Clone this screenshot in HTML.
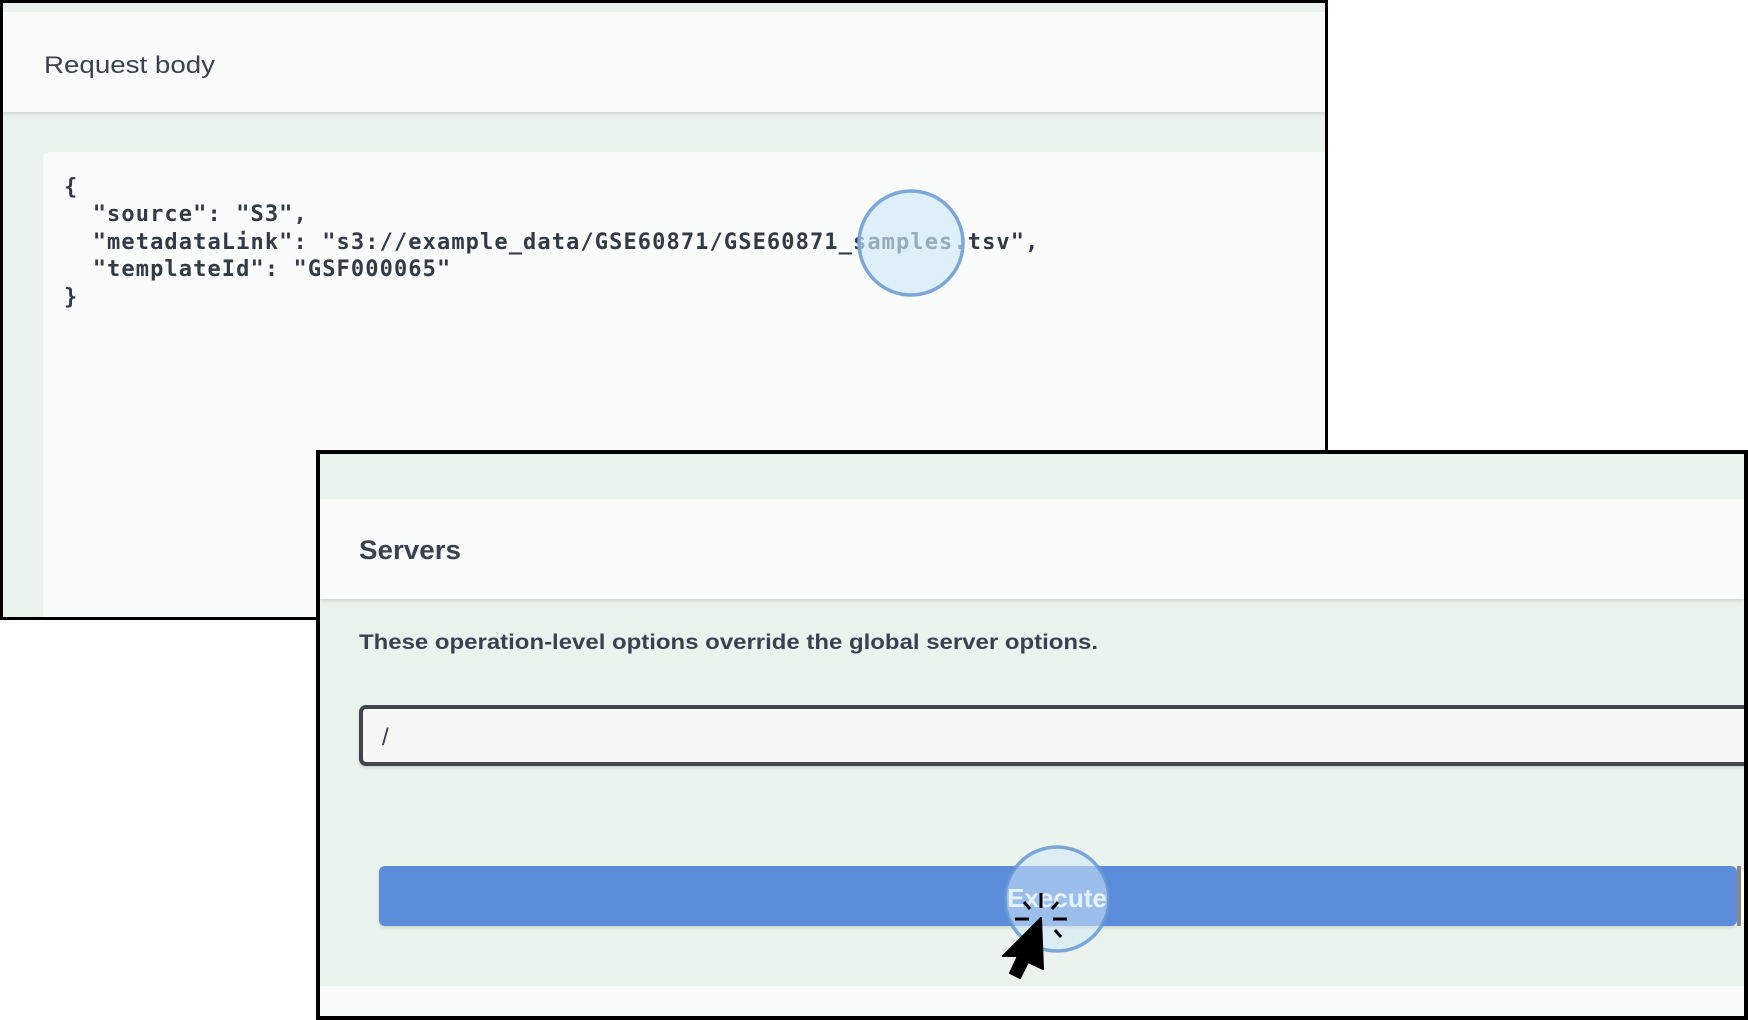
<!DOCTYPE html>
<html><head><meta charset="utf-8"><style>
html,body{margin:0;padding:0;background:#fff;width:1748px;height:1020px;overflow:hidden}
</style></head><body>
<svg width="1748" height="1020" viewBox="0 0 1748 1020" xmlns="http://www.w3.org/2000/svg">
<defs>
<filter id="sh" x="-5%" y="-50%" width="110%" height="200%"><feDropShadow dx="0" dy="2" stdDeviation="1.5" flood-color="#000" flood-opacity="0.12"/></filter>
<clipPath id="c1"><rect x="3" y="3" width="1322" height="614"/></clipPath>
<clipPath id="c2"><rect x="320" y="454" width="1424" height="562"/></clipPath>
</defs>
<!-- Panel 1 -->
<rect x="0" y="0" width="1328" height="620" fill="#000"/>
<rect x="3" y="3" width="1322" height="614" fill="#ebf3ee"/>
<g clip-path="url(#c1)">
<rect x="3" y="12" width="1322" height="100" fill="#fafbfb" filter="url(#sh)"/>
<text x="44" y="73" font-family="Liberation Sans, sans-serif" font-size="24" fill="#3b4151" textLength="171" lengthAdjust="spacingAndGlyphs">Request body</text>
<rect x="43" y="152" width="1290" height="480" rx="6" fill="#fafbfb"/>
<g font-family="DejaVu Sans Mono, Liberation Mono, monospace" font-size="22" font-weight="bold" fill="#333a46" letter-spacing="1.1">
<text x="64" y="194">{</text>
<text x="64" y="221" xml:space="preserve">  "source": "S3",</text>
<text x="64" y="249" xml:space="preserve">  "metadataLink": "s3://example_data/GSE60871/GSE60871_samples.tsv",</text>
<text x="64" y="276" xml:space="preserve">  "templateId": "GSF000065"</text>
<text x="64" y="304">}</text>
</g>
</g>
<circle cx="911" cy="243" r="52" fill="#cfe8f8" fill-opacity="0.65" stroke="#7ba7d8" stroke-width="3.5"/>
<!-- Panel 2 -->
<rect x="316" y="450" width="1432" height="570" fill="#000"/>
<rect x="320" y="454" width="1424" height="562" fill="#fafbfb"/>
<g clip-path="url(#c2)">
<rect x="320" y="454" width="1424" height="532" fill="#ebf3ee"/>
<rect x="320" y="499" width="1424" height="100" fill="#fafbfb" filter="url(#sh)"/>
<text x="359" y="559" font-family="Liberation Sans, sans-serif" font-size="27" font-weight="bold" fill="#3b4151" textLength="102" lengthAdjust="spacingAndGlyphs">Servers</text>
<text x="359" y="649" font-family="Liberation Sans, sans-serif" font-size="21" font-weight="bold" fill="#3b4151" textLength="739" lengthAdjust="spacingAndGlyphs">These operation-level options override the global server options.</text>
<rect x="361" y="707" width="1400" height="57" rx="5" fill="#f7f7f7" stroke="#41444e" stroke-width="4" filter="url(#sh)"/>
<text x="382" y="745" font-family="Liberation Sans, sans-serif" font-size="24" fill="#3b4151">/</text>
<rect x="379" y="866" width="1358" height="60" rx="6" fill="#5b8ddb" filter="url(#sh)"/>
<rect x="1737" y="866" width="4" height="60" fill="#888"/>
<rect x="1741" y="869" width="3" height="54" fill="#fff"/>
<text x="1057" y="907" text-anchor="middle" font-family="Liberation Sans, sans-serif" font-size="26" font-weight="bold" fill="#fff">Execute</text>
</g>
<circle cx="1057" cy="899" r="52" fill="#cfe8f8" fill-opacity="0.55" stroke="#5f93d2" stroke-opacity="0.8" stroke-width="3.5"/>
<g stroke="#000" stroke-width="3" stroke-linecap="butt">
<line x1="1041" y1="893" x2="1041" y2="908"/>
<line x1="1024" y1="902" x2="1030" y2="909"/>
<line x1="1058" y1="902" x2="1052" y2="909"/>
<line x1="1015" y1="919" x2="1029" y2="919"/>
<line x1="1053" y1="919" x2="1067" y2="919"/>
<line x1="1055" y1="930" x2="1061" y2="937"/>
</g>
<path d="M1041,918 L1003,956 L1018,956 L1010,973 L1020,978 L1028,962 L1043,969 Z" fill="#000" stroke="#000" stroke-width="2" stroke-linejoin="round"/>
</svg>
</body></html>
